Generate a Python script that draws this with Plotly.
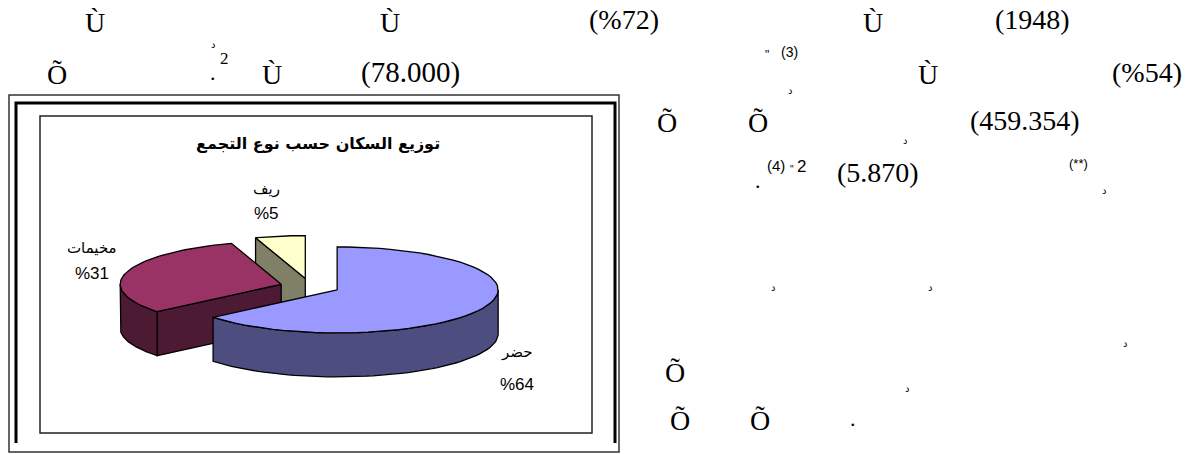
import math
import plotly.graph_objects as go

# ---------------- data ----------------
categories = ["حضر", "مخيمات", "ريف"]
values = [64, 31, 5]
pct_labels = ["%64", "%31", "%5"]
title_text = "توزيع السكان حسب نوع التجمع"

top_colors = ["#9999FF", "#993366", "#FFFFCC"]
side_colors = ["#4D4D80", "#4C1A33", "#808066"]

# ---------------- pie geometry (layout parameters, pixel-like units) ----------------
W, H = 1191, 454
CX, CY = 310, 286.5     # pie centre
RX, RY = 161, 43        # ellipse radii of the tilted pie
DEPTH = 44              # thickness of the 3-D pie
EXPLODE = 30            # explosion distance

total = sum(values)


def rim(theta_deg, ox, oy, z=0.0):
    t = math.radians(theta_deg)
    return (CX + ox + RX * math.sin(t), CY + oy - RY * math.cos(t) + z)


def arc(a0, a1, ox, oy, z=0.0, n=60):
    pts = []
    for k in range(n + 1):
        a = a0 + (a1 - a0) * k / n
        pts.append(rim(a, ox, oy, z))
    return pts


slices = []
start = 0.0
for i, v in enumerate(values):
    a0 = start
    a1 = start + 360.0 * v / total
    m = math.radians((a0 + a1) / 2)
    ox = EXPLODE * math.sin(m)
    oy = -EXPLODE * math.cos(m) * RY / RX
    slices.append(dict(i=i, a0=a0, a1=a1, ox=ox, oy=oy, depthkey=-math.cos(m)))
    start = a1

fig = go.Figure()


def add_poly(pts, color):
    xs = [p[0] for p in pts] + [pts[0][0]]
    ys = [p[1] for p in pts] + [pts[0][1]]
    fig.add_trace(go.Scatter(
        x=xs, y=ys, mode="lines", fill="toself", fillcolor=color,
        line=dict(color="black", width=1.3), hoverinfo="skip", showlegend=False))


# draw back slices first
for s in sorted(slices, key=lambda d: d["depthkey"]):
    i, a0, a1, ox, oy = s["i"], s["a0"], s["a1"], s["ox"], s["oy"]
    apex_top = (CX + ox, CY + oy)
    apex_bot = (CX + ox, CY + oy + DEPTH)
    # cut face at start angle
    if math.sin(math.radians(a0)) < -1e-6:
        p_top = rim(a0, ox, oy)
        p_bot = rim(a0, ox, oy, DEPTH)
        add_poly([apex_top, p_top, p_bot, apex_bot], side_colors[i])
    # cut face at end angle
    if math.sin(math.radians(a1)) > 1e-6:
        p_top = rim(a1, ox, oy)
        p_bot = rim(a1, ox, oy, DEPTH)
        add_poly([apex_top, p_top, p_bot, apex_bot], side_colors[i])
    # outer curved side (front half only)
    lo, hi = max(a0, 90.0), min(a1, 270.0)
    if hi > lo:
        pts = arc(lo, hi, ox, oy) + arc(hi, lo, ox, oy, DEPTH)
        add_poly(pts, side_colors[i])
    # top face
    add_poly([apex_top] + arc(a0, a1, ox, oy), top_colors[i])

# ---------------- chart labels ----------------
ar_font = dict(family="DejaVu Sans, Arial, sans-serif", size=15, color="black")
num_font = dict(family="Liberation Sans, Arial, sans-serif", size=17, color="black")
label_pos = [(517, 352, 384), (92, 248, 273), (266, 189, 213)]
annotations = []
for (lx, ly1, ly2), name, pct in zip(label_pos, categories, pct_labels):
    annotations.append(dict(x=lx, y=ly1, text=name, showarrow=False, font=ar_font,
                            xref="x", yref="y"))
    annotations.append(dict(x=lx, y=ly2, text=pct, showarrow=False, font=num_font,
                            xref="x", yref="y"))
annotations.append(dict(x=318, y=143, text="<b>" + title_text + "</b>", showarrow=False,
                        font=dict(family="DejaVu Sans, Arial, sans-serif", size=16,
                                  color="black"), xref="x", yref="y"))

# ---------------- surrounding document text ----------------
serif = "Liberation Serif, Times New Roman, serif"
sans = "Liberation Sans, Arial, sans-serif"
arab = "DejaVu Sans, sans-serif"
doc_text = [
    ("Ù", 95, 22, 28, serif), ("Ù", 390, 22, 28, serif), ("(%72)", 624, 19, 28, serif),
    ("Ù", 873, 22, 28, serif), ("(1948)", 1032, 19, 28, serif),
    ("Õ", 57, 74, 28, serif), ("Ù", 272, 74, 28, serif), ("(78.000)", 410, 72, 29, serif),
    ("Ù", 928, 74, 28, serif), ("(%54)", 1147, 72, 28, serif),
    ("Õ", 667, 122, 28, serif), ("Õ", 758, 122, 28, serif), ("(459.354)", 1025, 120, 28, serif),
    ("(5.870)", 878, 172, 28, serif),
    ("Õ", 675, 372, 28, serif), ("Õ", 680, 420, 28, serif), ("Õ", 760, 420, 28, serif),
    (".", 213, 72, 22, serif), ("2", 224, 58, 17, serif), ("د", 213, 44, 10, arab),
    ('"', 767, 55, 12, sans), ("(3)", 789, 52, 14, sans), ("د", 790, 90, 10, arab),
    (".", 758, 180, 22, serif), ("(4)", 776, 165, 15, sans), ('"', 792, 169, 10, sans),
    ("2", 801, 166, 17, sans), ("(**)", 1078, 163, 13, sans),
    ("د", 905, 140, 10, arab), ("د", 1104, 190, 10, arab), ("د", 773, 287, 10, arab),
    ("د", 930, 287, 10, arab), ("د", 1125, 343, 10, arab), ("د", 907, 388, 10, arab),
    (".", 853, 418, 22, serif),
]
for t, x, y, sz, fam in doc_text:
    annotations.append(dict(x=x, y=y, text=t, showarrow=False, xref="x", yref="y",
                            font=dict(family=fam, size=sz, color="black")))

# ---------------- frames ----------------
shapes = [
    dict(type="rect", xref="x", yref="y", x0=9, y0=95, x1=619, y1=452,
         line=dict(color="#333333", width=1.5)),
    dict(type="path", xref="x", yref="y", path="M 16 443 L 16 103 L 615 103 L 615 443",
         line=dict(color="black", width=3)),
    dict(type="rect", xref="x", yref="y", x0=40, y0=116, x1=592, y1=433,
         line=dict(color="#222222", width=1.5)),
]

fig.update_layout(
    width=W, height=H, margin=dict(l=0, r=0, t=0, b=0, pad=0),
    paper_bgcolor="white", plot_bgcolor="white",
    xaxis=dict(range=[0, W], visible=False, fixedrange=True),
    yaxis=dict(range=[H, 0], visible=False, fixedrange=True),
    annotations=annotations, shapes=shapes, showlegend=False,
)

fig.write_html("out.html",
               config={"displayModeBar": False, "staticPlot": True},
               post_script="document.body.style.margin='0px';document.body.style.overflow='hidden';")
